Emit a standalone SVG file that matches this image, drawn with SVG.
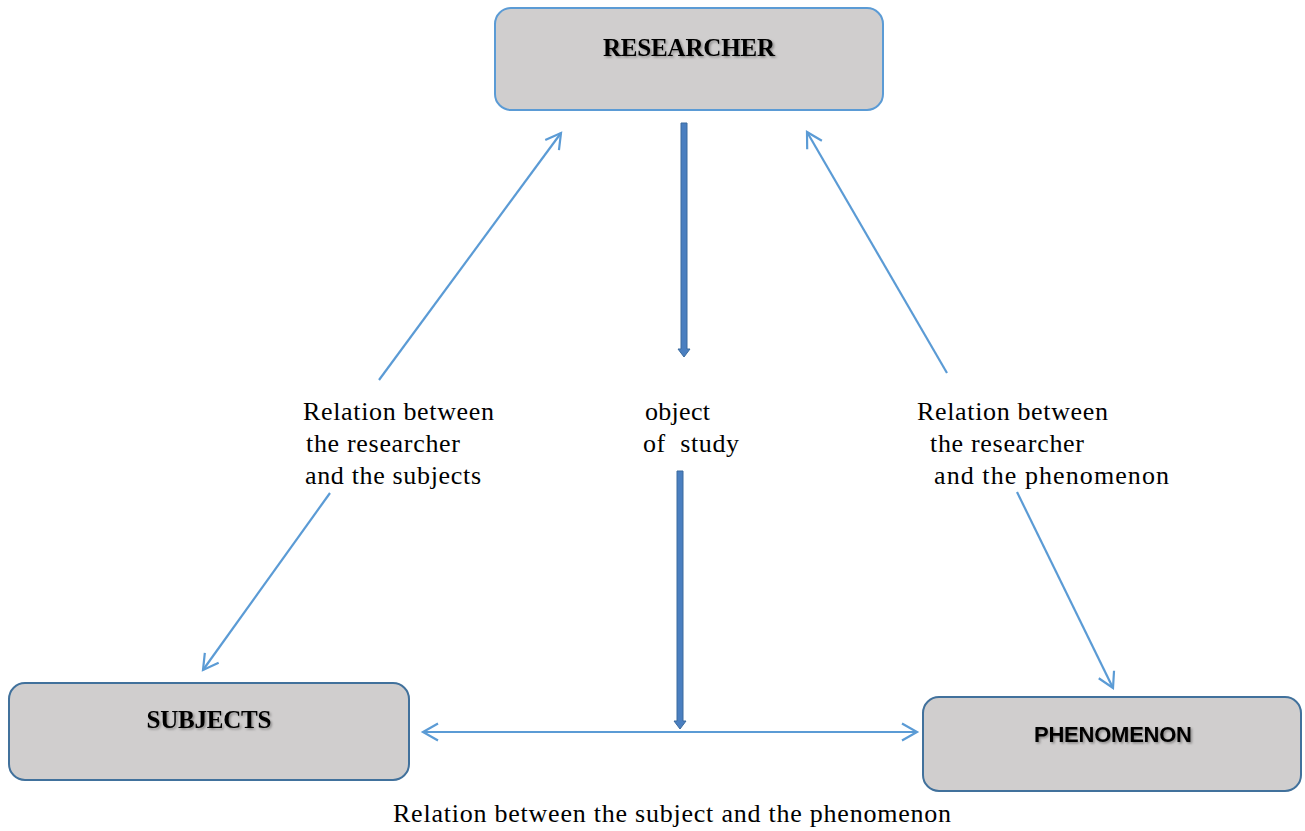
<svg xmlns="http://www.w3.org/2000/svg" width="1305" height="831" viewBox="0 0 1305 831">
<style>
.box{fill:#d0cece;stroke-width:2}
.title{font-family:"Liberation Serif",serif;font-weight:bold;font-size:25px;fill:#000;text-anchor:middle}
.sans{font-family:"Liberation Sans",sans-serif;font-weight:bold;font-size:22px;fill:#000;text-anchor:middle}
.lbl{font-family:"Liberation Serif",serif;font-size:26px;fill:#000}
.conn{stroke:#5b9bd5;stroke-width:2.2;fill:none}
.thick{fill:#4a7fc0;stroke:#3a6a9e;stroke-width:1}
</style>
<defs>
<marker id="open" markerUnits="userSpaceOnUse" markerWidth="40" markerHeight="40" refX="0" refY="0" viewBox="-20 -20 40 40" orient="auto-start-reverse">
<path d="M -15 -8.5 L 0 0 L -15 8.5" fill="none" stroke="#5b9bd5" stroke-width="2.2"/>
</marker>
<filter id="sh" x="-10%" y="-30%" width="120%" height="160%">
<feDropShadow dx="1.5" dy="1.5" stdDeviation="1" flood-color="#000" flood-opacity="0.35"/>
</filter>
</defs>
<g id="researcher">
<rect class="box" x="495" y="8" width="388" height="102" rx="16" stroke="#5b9bd5"/>
<text class="title" x="689" y="56" textLength="172" filter="url(#sh)">RESEARCHER</text>
</g>
<g id="subjects">
<rect class="box" x="9" y="683" width="400" height="97" rx="16" stroke="#41719c"/>
<text class="title" x="209" y="728" textLength="125" filter="url(#sh)">SUBJECTS</text>
</g>
<g id="phenomenon">
<rect class="box" x="923" y="697" width="378" height="94" rx="16" stroke="#41719c"/>
<text class="sans" x="1113" y="742" textLength="158" filter="url(#sh)">PHENOMENON</text>
</g>
<g id="connectors">
<line class="conn" x1="379" y1="380" x2="561" y2="133" marker-end="url(#open)"/>
<line class="conn" x1="330" y1="493" x2="203" y2="670" marker-end="url(#open)"/>
<line class="conn" x1="947" y1="373" x2="807" y2="132" marker-end="url(#open)"/>
<line class="conn" x1="1017" y1="492" x2="1113" y2="688" marker-end="url(#open)"/>
<line class="conn" x1="423" y1="732" x2="917" y2="732" marker-start="url(#open)" marker-end="url(#open)"/>
<path class="thick" d="M681 123 H687 V349 H690 L684 357 L678 349 H681 Z"/>
<path class="thick" d="M677 471 H683 V721 H686 L680 729 L674 721 H677 Z"/>
</g>
<g id="labels">
<text class="lbl" x="303" y="420" textLength="191">Relation between</text>
<text class="lbl" x="306" y="452" textLength="154">the researcher</text>
<text class="lbl" x="305" y="484" textLength="176">and the subjects</text>
<text class="lbl" x="645" y="420" textLength="65">object</text>
<text class="lbl" x="643" y="452" textLength="96" xml:space="preserve">of  study</text>
<text class="lbl" x="917" y="420" textLength="191">Relation between</text>
<text class="lbl" x="930" y="452" textLength="154">the researcher</text>
<text class="lbl" x="934" y="484" textLength="235">and the phenomenon</text>
<text class="lbl" x="393" y="822" textLength="558">Relation between the subject and the phenomenon</text>
</g>
</svg>
